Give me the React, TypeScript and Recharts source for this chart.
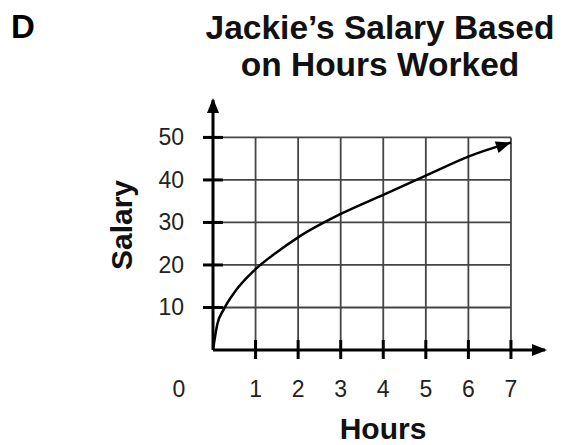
import { LineChart, Line, XAxis, YAxis, ReferenceLine, ReferenceDot, Label } from "recharts"

const hours = [0, 0.1, 0.25, 0.5, 1, 1.5, 2, 3, 4, 5, 6, 7]
const salary = [0, 6, 9.5, 13.5, 19, 23, 26.5, 32, 36.5, 41, 45.5, 48.8]
const hourTicks = [0, 1, 2, 3, 4, 5, 6, 7]
const salaryTicks = [10, 20, 30, 40, 50]

const data = hours.map((h, i) => ({ hours: h, salary: salary[i] }))

const font = '"Liberation Sans", Arial, Helvetica, sans-serif'
const gridColor = "#444"

function HourTick(props: any) {
  const { x, y, payload } = props
  if (payload.value === 0) {
    return (
      <text x={x - 34} y={y + 39} textAnchor="middle" dominantBaseline="central" fontSize={23} fill="#222" fontFamily={font}>
        0
      </text>
    )
  }
  return (
    <g>
      <line x1={x} x2={x} y1={y - 10} y2={y + 9} stroke="#000" strokeWidth={3} />
      <text x={x} y={y + 39} textAnchor="middle" dominantBaseline="central" fontSize={23} fill="#222" fontFamily={font}>
        {payload.value}
      </text>
    </g>
  )
}

function SalaryTick(props: any) {
  const { x, y, payload } = props
  return (
    <g>
      <line x1={x - 10} x2={x + 10} y1={y} y2={y} stroke="#000" strokeWidth={3} />
      <text x={x - 29} y={y} textAnchor="end" dominantBaseline="central" fontSize={23} fill="#222" fontFamily={font}>
        {payload.value}
      </text>
    </g>
  )
}

function EndArrow(props: any) {
  const { cx, cy, index, points } = props
  if (index !== hours.length - 1) return <g key={`d${index}`} />
  let angle = -0.36
  if (points && points[index - 1]) {
    const p = points[index - 1]
    angle = Math.atan2(cy - p.y, cx - p.x)
  }
  const deg = (angle * 180) / Math.PI
  return (
    <path
      key={`d${index}`}
      d={`M${cx},${cy} l-15,-6 l0,12 z`}
      fill="#000"
      transform={`rotate(${deg}, ${cx}, ${cy})`}
    />
  )
}

const arrowRight = (p: any) => <path d={`M${p.cx + 2},${p.cy} l-15,-6 l0,12 z`} fill="#000" />
const arrowUp = (p: any) => <path d={`M${p.cx},${p.cy - 2} l-6,15 l12,0 z`} fill="#000" />

export default function App() {
  return (
    <div style={{ position: "absolute", left: 0, top: 0, width: 566, height: 445, background: "#fff", fontFamily: font }}>
      <div style={{ position: "absolute", left: 11, top: 8, fontSize: 33, fontWeight: "bold", lineHeight: "37px", color: "#000" }}>
        D
      </div>
      <div
        style={{
          position: "absolute",
          left: 180,
          top: 9,
          width: 400,
          textAlign: "center",
          fontSize: 33.5,
          fontWeight: "bold",
          lineHeight: "37px",
          color: "#111",
        }}
      >
        Jackie’s Salary Based
        <br />
        on Hours Worked
      </div>
      <LineChart width={566} height={445} data={data} margin={{ top: 100, right: 21, bottom: 0, left: 30 }}>
        {salaryTicks.map((t) => (
          <ReferenceLine key={`h${t}`} segment={[{ x: 0, y: t }, { x: 7, y: t }]} stroke={gridColor} strokeWidth={1.8} />
        ))}
        {hourTicks.slice(1).map((t) => (
          <ReferenceLine key={`v${t}`} segment={[{ x: t, y: 0 }, { x: t, y: 50 }]} stroke={gridColor} strokeWidth={1.8} />
        ))}
        <XAxis
          dataKey="hours"
          type="number"
          domain={[0, 7.8]}
          ticks={hourTicks}
          allowDataOverflow
          height={95}
          tickSize={0}
          tickMargin={0}
          tickLine={false}
          tick={<HourTick />}
          axisLine={{ stroke: "#000", strokeWidth: 3 }}
        >
          <Label
            value="Hours"
            position="insideBottom"
            offset={6}
            dx={4}
            style={{ fontSize: 30, fontWeight: "bold", fill: "#111", fontFamily: font }}
          />
        </XAxis>
        <YAxis
          type="number"
          domain={[0, 58.8]}
          ticks={salaryTicks}
          allowDataOverflow
          width={183}
          tickSize={0}
          tickMargin={0}
          tickLine={false}
          tick={<SalaryTick />}
          axisLine={{ stroke: "#000", strokeWidth: 3 }}
        >
          <Label
            value="Salary"
            position="center"
            angle={-90}
            style={{ fontSize: 30, fontWeight: "bold", fill: "#111", fontFamily: font }}
          />
        </YAxis>
        <ReferenceDot x={7.8} y={0} r={0} ifOverflow="visible" shape={arrowRight} />
        <ReferenceDot x={0} y={58.8} r={0} ifOverflow="visible" shape={arrowUp} />
        <Line
          dataKey="salary"
          type="monotone"
          stroke="#000"
          strokeWidth={2.5}
          dot={EndArrow}
          activeDot={false}
          isAnimationActive={false}
        />
      </LineChart>
    </div>
  )
}
